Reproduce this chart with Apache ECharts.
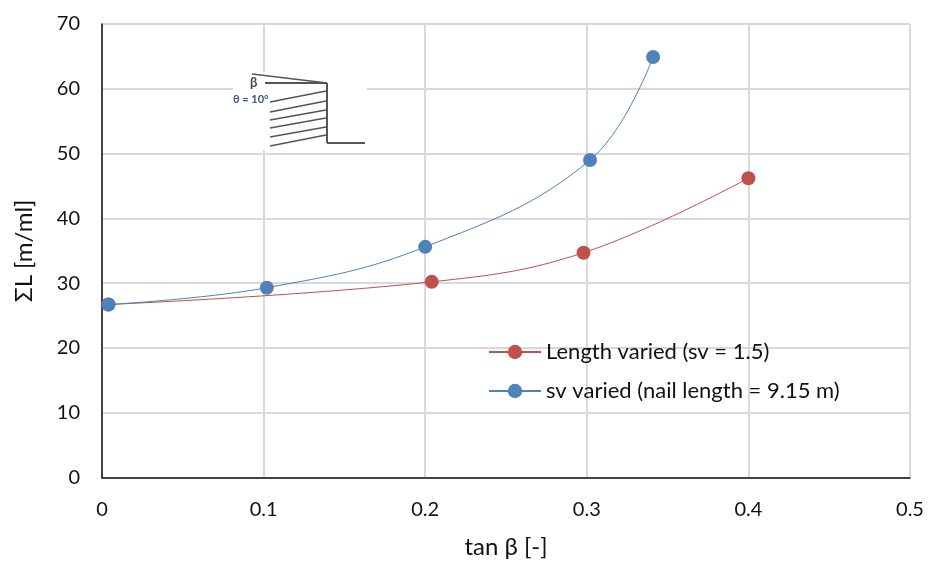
<!DOCTYPE html>
<html><head><meta charset="utf-8">
<script src="https://cdn.jsdelivr.net/npm/echarts@6/dist/echarts.min.js"></script>
<style>html,body{margin:0;padding:0;background:#fff}#c{width:928px;height:561px}</style>
</head><body><div id="c"></div>
<script>
const lengthVaried = [[0.004,26.7],[0.204,30.2],[0.298,34.7],[0.4,46.2]];
const svVaried = [[0.004,26.7],[0.102,29.3],[0.2,35.6],[0.302,49],[0.341,64.9]];
const seriesNames = ['Length varied (sv = 1.5)','sv varied (nail length = 9.15 m)'];
const font = 'Lato, "Open Sans", sans-serif';
const nails = [[102,91],[112,101],[120,110],[128,118],[137,127],[146,135]];
const ln = (x1,y1,x2,y2,w) => ({type:'line',z:101,shape:{x1,y1,x2,y2},style:{stroke:'#555',lineWidth:w||1.5}});
const chart = echarts.init(document.getElementById('c'),null,{renderer:'canvas'});
const mk = (name,data,color) => ({name,type:'line',data,smooth:0.4,symbol:'circle',symbolSize:14,
  showSymbol:true,clip:false,lineStyle:{color,width:1},itemStyle:{color,borderWidth:0}});
chart.setOption({
  animation:false,backgroundColor:'#fff',
  grid:{left:102,right:18,top:24,bottom:83.5,containLabel:false,outerBoundsMode:'none'},
  legend:{left:483,top:336,orient:'vertical',itemGap:17,itemWidth:52,itemHeight:18,
    data:seriesNames,textStyle:{fontFamily:font,fontSize:22,color:'#111',padding:[0,0,0,0]}},
  xAxis:{type:'value',min:0,max:0.5,interval:0.1,name:'tan β [-]',nameLocation:'middle',nameGap:58,
    nameTextStyle:{fontFamily:font,fontSize:24,color:'#111'},
    axisLine:{show:true,onZero:false,lineStyle:{color:'#111',width:1.5}},axisTick:{show:false},
    axisLabel:{fontFamily:font,fontSize:20,color:'#111',margin:22},
    splitLine:{show:true,lineStyle:{color:'#d9d9d9',width:2}}},
  yAxis:{type:'value',min:0,max:70,interval:10,name:'ΣL [m/ml]',nameLocation:'middle',nameGap:66,
    nameTextStyle:{fontFamily:font,fontSize:24,color:'#111'},
    axisLine:{show:true,onZero:false,lineStyle:{color:'#111',width:1.5}},axisTick:{show:false},
    axisLabel:{fontFamily:font,fontSize:20,color:'#111',margin:22},
    splitLine:{show:true,lineStyle:{color:'#d9d9d9',width:2}}},
  series:[mk(seriesNames[0],lengthVaried,'#c0504d'),mk(seriesNames[1],svVaried,'#4f81bd')],
  graphic:[
    {type:'rect',z:100,shape:{x:233,y:72,width:134,height:78},style:{fill:'#fff'}},
    ln(265,83,327,83,2),ln(252,74,327,83),ln(327,83,327,143,2),ln(327,143,365,143,2),
    ...nails.map(n=>ln(270,n[0],326,n[1])),
    {type:'text',z:102,x:250,y:76,style:{text:'β',font:'bold 13px '+font,fill:'#444'}},
    {type:'text',z:102,x:233,y:94,style:{text:'θ = 10°',font:'bold 11px '+font,fill:'#3a5a80'}}
  ]
});
</script></body></html>
